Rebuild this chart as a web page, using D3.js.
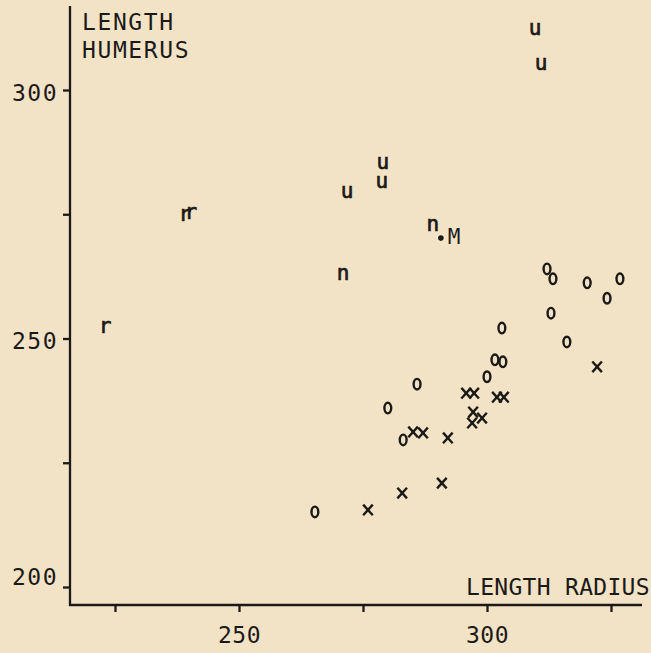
<!DOCTYPE html>
<html>
<head>
<meta charset="utf-8">
<script src="https://cdn.jsdelivr.net/npm/d3@7"></script>
<style>
  html, body { margin: 0; padding: 0; background: #f2e3c7; }
  svg { display: block; }
  text { font-family: "DejaVu Sans Mono", monospace; fill: #1c1a17; }
</style>
</head>
<body>
<svg id="chart" width="651" height="653"></svg>
<script>
// ---- Data (length radius, length humerus) ----
const xTicks = [225, 250, 275, 300, 325];
const yTicks = [200, 225, 250, 275, 300];
const xTickLabels = {250: "250", 300: "300"};
const yTickLabels = {200: "200", 250: "250", 300: "300"};

const oRadius  = [265.3, 280.0, 283.1, 285.9, 300.0, 301.6, 303.2, 303.0, 312.1, 313.3, 312.9, 316.1, 320.2, 324.2, 326.8];
const oHumerus = [215.1, 236.0, 229.6, 240.8, 242.3, 245.7, 245.3, 252.1, 264.0, 262.0, 255.1, 249.3, 261.2, 258.1, 262.0];

const xRadius  = [276.0, 282.9, 290.9, 285.1, 287.1, 292.1, 295.8, 297.4, 302.0, 303.4, 297.2, 299.0, 297.0, 322.2];
const xHumerus = [215.5, 218.9, 220.9, 231.2, 231.0, 230.0, 239.0, 239.0, 238.2, 238.2, 235.2, 234.0, 233.0, 244.3];

const uRadius  = [309.7, 310.9, 279.0, 278.8, 271.8];
const uHumerus = [312.3, 305.2, 285.3, 281.5, 279.5];

const nRadius  = [289.1, 271.0];
const nHumerus = [272.8, 263.0];

const rRadius  = [223.0, 239.1, 240.3];
const rHumerus = [252.3, 274.8, 275.3];

const mRadius  = [290.7];
const mHumerus = [270.2];
const mLabel   = "M";

const xTitle = "LENGTH RADIUS";
const yTitle = ["LENGTH", "HUMERUS"];

// ---- Chart ----
const svg = d3.select("#chart");
const x = d3.scaleLinear().domain([225, 325]).range([115, 611]);
const y = d3.scaleLinear().domain([200, 300]).range([587, 90]);
const ink = "#1c1a17";

// axis lines (extend beyond tick range as in the original)
svg.append("line").attr("x1", 70).attr("x2", 70).attr("y1", 6).attr("y2", 606)
  .attr("stroke", ink).attr("stroke-width", 2.3);
svg.append("line").attr("x1", 69).attr("x2", 642).attr("y1", 605).attr("y2", 605)
  .attr("stroke", ink).attr("stroke-width", 2.3);

// y axis
const yAxis = svg.append("g").attr("transform", "translate(70,0)")
  .call(d3.axisLeft(y).tickValues(yTicks).tickSize(7).tickPadding(5)
    .tickFormat(d => yTickLabels[d] || ""));
yAxis.select(".domain").remove();
yAxis.selectAll(".tick line").attr("stroke", ink).attr("stroke-width", 2.3);
yAxis.selectAll(".tick text")
  .attr("font-family", "DejaVu Sans Mono").attr("font-size", 23)
  .attr("letter-spacing", 1.5).attr("fill", ink)
  .attr("dy", d => d === 200 ? "-0.1em" : "0.45em");

// x axis
const xAxis = svg.append("g").attr("transform", "translate(0,605)")
  .call(d3.axisBottom(x).tickValues(xTicks).tickSize(7).tickPadding(15)
    .tickFormat(d => xTickLabels[d] || ""));
xAxis.select(".domain").remove();
xAxis.selectAll(".tick line").attr("stroke", ink).attr("stroke-width", 2.3);
xAxis.selectAll(".tick text")
  .attr("font-family", "DejaVu Sans Mono").attr("font-size", 23)
  .attr("letter-spacing", 0.5).attr("fill", ink);

// titles
svg.append("text").attr("x", 466).attr("y", 595)
  .attr("font-size", 23).attr("letter-spacing", 0.3).text(xTitle);
svg.selectAll(".ytitle").data(yTitle).enter().append("text")
  .attr("class", "ytitle").attr("x", 82).attr("y", (d, i) => 30 + i * 28)
  .attr("font-size", 23).attr("letter-spacing", 1.6).text(d => d);

// helper to zip
const zip = (a, b) => a.map((v, i) => [v, b[i]]);

// "o" markers
svg.append("g").selectAll("ellipse").data(zip(oRadius, oHumerus)).enter()
  .append("ellipse")
  .attr("cx", d => x(d[0])).attr("cy", d => y(d[1]))
  .attr("rx", 3.4).attr("ry", 5.3)
  .attr("fill", "none").attr("stroke", ink).attr("stroke-width", 2.4);

// "x" markers
const xg = svg.append("g").selectAll("g").data(zip(xRadius, xHumerus)).enter()
  .append("g").attr("transform", d => `translate(${x(d[0])},${y(d[1])})`);
xg.append("line").attr("x1", -4.8).attr("y1", -5.3).attr("x2", 4.8).attr("y2", 5.3)
  .attr("stroke", ink).attr("stroke-width", 2.4);
xg.append("line").attr("x1", 4.8).attr("y1", -5.3).attr("x2", -4.8).attr("y2", 5.3)
  .attr("stroke", ink).attr("stroke-width", 2.4);

// letter markers
function letters(xs, ys, ch) {
  svg.append("g").selectAll("text").data(zip(xs, ys)).enter().append("text")
    .attr("x", d => x(d[0])).attr("y", d => y(d[1]))
    .attr("dy", "0.28em").attr("text-anchor", "middle")
    .attr("font-size", 21).attr("stroke", ink).attr("stroke-width", 0.7)
    .text(ch);
}
letters(uRadius, uHumerus, "u");
letters(nRadius, nHumerus, "n");
letters(rRadius, rHumerus, "r");

// M point
svg.append("circle").attr("cx", x(mRadius[0])).attr("cy", y(mHumerus[0]))
  .attr("r", 2.8).attr("fill", ink);
svg.append("text").attr("x", x(mRadius[0]) + 7).attr("y", y(mHumerus[0]) + 5.5)
  .attr("font-size", 21).text(mLabel);
</script>
</body>
</html>
